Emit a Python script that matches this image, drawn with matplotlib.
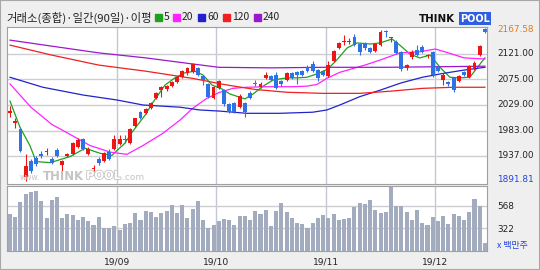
import matplotlib
matplotlib.use('Agg')
import matplotlib.pyplot as plt
import matplotlib.patheffects as pe
from matplotlib.patches import Rectangle

# 거래소(종합) 일봉 2019-08-01 ~ 2019-12-13
opens = [2015, 1996, 1986, 1900, 1928, 1934, 1941, 1944, 1932, 1948, 1921, 1937, 1941, 1954, 1968, 1941,
         1914, 1932, 1928, 1945, 1950, 1959, 1968, 1961, 1992, 2016, 2014, 2023, 2041, 2056, 2057, 2063,
         2070, 2079, 2086, 2088, 2095, 2081, 2066, 2041, 2059, 2056, 2030, 2032, 2026, 2032, 2050, 2069,
         2061, 2077, 2081, 2083, 2072, 2074, 2086, 2088, 2090, 2097, 2103, 2092, 2090, 2081, 2108, 2132,
         2142, 2142, 2152, 2139, 2141, 2132, 2126, 2137, 2162, 2149, 2143, 2125, 2095, 2115, 2128, 2134,
         2117, 2125, 2097, 2074, 2070, 2077, 2072, 2088, 2079, 2095, 2119, 2166]
closes = [2018, 2001, 1946, 1919, 1910, 1923, 1937, 1946, 1925, 1937, 1928, 1941, 1961, 1965, 1950, 1950,
          1916, 1925, 1943, 1932, 1968, 1968, 1965, 1986, 2005, 2006, 2021, 2032, 2050, 2061, 2063, 2070,
          2079, 2090, 2095, 2103, 2083, 2074, 2043, 2061, 2072, 2030, 2017, 2017, 2046, 2017, 2041, 2067,
          2066, 2083, 2074, 2059, 2066, 2086, 2077, 2083, 2084, 2090, 2090, 2077, 2083, 2101, 2126, 2141,
          2144, 2144, 2137, 2125, 2132, 2125, 2139, 2161, 2160, 2151, 2123, 2094, 2101, 2125, 2119, 2125,
          2119, 2083, 2090, 2083, 2066, 2056, 2081, 2083, 2099, 2105, 2136, 2160]
highs = [2027, 2006, 1988, 1941, 1931, 1937, 1946, 1951, 1935, 1951, 1930, 1943, 1963, 1970, 1970, 1954,
         1921, 1935, 1945, 1950, 1974, 1974, 1974, 1988, 2006, 2018, 2023, 2034, 2052, 2063, 2065, 2072,
         2081, 2092, 2097, 2105, 2097, 2083, 2068, 2063, 2074, 2058, 2032, 2034, 2048, 2034, 2054, 2074,
         2070, 2088, 2083, 2088, 2074, 2088, 2088, 2090, 2092, 2101, 2108, 2094, 2092, 2108, 2128, 2143,
         2155, 2150, 2157, 2141, 2143, 2134, 2141, 2164, 2165, 2152, 2146, 2127, 2103, 2128, 2137, 2137,
         2121, 2127, 2101, 2086, 2072, 2079, 2083, 2090, 2101, 2108, 2138, 2167.58]
lows = [2007, 1988, 1944, 1891.81, 1906, 1919, 1934, 1939, 1922, 1935, 1910, 1935, 1939, 1952, 1948, 1939,
        1910, 1921, 1926, 1930, 1948, 1957, 1961, 1959, 1990, 2004, 2012, 2021, 2039, 2043, 2055, 2061,
        2068, 2077, 2084, 2086, 2081, 2065, 2041, 2039, 2057, 2028, 2015, 2014, 2024, 2008, 2039, 2063,
        2059, 2075, 2072, 2057, 2064, 2072, 2075, 2066, 2082, 2088, 2088, 2073, 2081, 2079, 2106, 2130,
        2137, 2139, 2135, 2119, 2128, 2123, 2124, 2135, 2152, 2143, 2121, 2090, 2093, 2112, 2117, 2123,
        2114, 2079, 2088, 2065, 2063, 2052, 2070, 2081, 2077, 2092, 2117, 2159]
volumes = [480, 450, 623, 708, 726, 737, 634, 439, 642, 671, 439, 487, 476, 414, 450, 402,
           366, 450, 322, 322, 347, 303, 377, 384, 498, 414, 516, 505, 450, 498, 516, 590,
           498, 587, 443, 535, 634, 421, 322, 358, 406, 432, 421, 366, 458, 458, 414, 513,
           480, 524, 347, 516, 604, 505, 439, 388, 369, 322, 388, 439, 469, 439, 487, 421,
           432, 439, 560, 609, 598, 642, 524, 498, 510, 789, 579, 579, 505, 421, 531, 388,
           366, 450, 406, 458, 377, 480, 461, 421, 505, 653, 579, 157]

# 이동평균선
ma5_x = [0, 1.9, 3.8, 5, 7.7, 11.5, 14.4, 17.2, 19.5, 22, 23.4, 25.9, 27.4, 29.7, 31.6, 33.5, 35.4, 37,
         38.7, 40.6, 42.1, 45, 46.6, 48.5, 50.4, 53, 55, 56.9, 59.4, 60.9, 62.6, 64.6, 66.5, 69, 70.9,
         73.2, 74.7, 76.6, 78.5, 80.5, 82.4, 84.3, 86.2, 88.1, 89.5, 91]
ma5_y = [2036, 1989, 1956, 1927, 1925, 1936, 1951, 1942, 1938, 1960, 1980, 2011, 2034, 2065, 2078, 2087,
         2090, 2083, 2065, 2058, 2049, 2040, 2049, 2063, 2074, 2078, 2078, 2079, 2087, 2094, 2110, 2132,
         2141, 2139, 2141, 2148, 2137, 2121, 2114, 2119, 2097, 2079, 2078, 2079, 2096, 2114]
ma20_x = [0, 4, 8, 11.5, 15.3, 19.2, 22.4, 25.5, 29.3, 32.6, 35, 37.7, 40.2, 42.7, 45.4, 49.2, 54.2,
          56.9, 58.8, 60.7, 63.2, 68, 70.9, 74.7, 78.5, 81.5, 84, 87, 91]
ma20_y = [2067, 2025, 1994, 1976, 1956, 1944, 1940, 1956, 1978, 2002, 2023, 2041, 2052, 2059, 2061,
          2062, 2062, 2063, 2066, 2077, 2088, 2101, 2110, 2123, 2125, 2130, 2123, 2114, 2112]
ma60_x = [0, 6.3, 14, 20.5, 25.5, 32.6, 36.4, 40.2, 45.4, 51.7, 58, 60.7, 63.2, 67, 71, 75, 79, 83, 87, 91]
ma60_y = [2079, 2061, 2047, 2038, 2029, 2025, 2020, 2018, 2014, 2014, 2016, 2020, 2029, 2044, 2056,
          2069, 2079, 2086, 2092, 2097]
ma120_x = [0, 8, 17, 26, 35, 41, 47, 53, 60, 67, 73, 79, 85, 91]
ma120_y = [2137, 2119, 2101, 2090, 2077, 2066, 2057, 2052, 2050, 2050, 2054, 2059, 2061, 2061]
ma240_x = [0, 17, 26, 35, 40, 50, 60, 72, 91]
ma240_y = [2146, 2123, 2114, 2103, 2097, 2096, 2097, 2097, 2099]

month_labels = ['19/09', '19/10', '19/11', '19/12']
month_start = [21, 40, 61, 82]
price_ticks = [2121, 2075, 2029, 1983, 1937]
vol_ticks = [568, 322]
ma_names = ['5', '20', '60', '120', '240']
ma_colors = ['#1fa01f', '#ff22ff', '#2222cc', '#ee2020', '#9a18cc']

W, H = 540, 270


def fx(x):
    return x / W


def fy(y):
    return 1 - y / H


fig = plt.figure(figsize=(5.4, 2.7), dpi=100, facecolor='#efefef')
fig.patches.append(Rectangle((0, 0), 1, 1, transform=fig.transFigure, fill=False,
                             edgecolor='#a8a8a8', lw=1.5))

ax = fig.add_axes([fx(7), fy(184), fx(480), 157 / H])
axv = fig.add_axes([fx(7), fy(250.5), fx(480), 64.5 / H])
for a in (ax, axv):
    a.set_facecolor('white')
    a.set_xlim(-0.58, 91.4)
    a.set_xticks([])
    a.set_yticks([])
    for s in a.spines.values():
        s.set_color('#a0a0a0')
        s.set_linewidth(0.8)
    for m in month_start:
        a.axvline(m - 0.5, color='#c4c8d4', lw=1.0, zorder=0)

ax.set_ylim(1886.5, 2169.7)
axv.set_ylim(76, 797)
for t in price_ticks:
    ax.axhline(t, color='#cdcdd2', lw=1.0, zorder=0)
for t in vol_ticks:
    axv.axhline(t, color='#cdcdd2', lw=1.0, zorder=0)

# 워터마크
wm = dict(color='#c4c4c4', va='center', ha='left', zorder=1)
fig.text(fx(20), fy(177), 'www.', fontsize=5.5, **wm)
fig.text(fx(43), fy(176), 'THINK', fontsize=8.4, fontweight='bold', **wm)
fig.text(fx(86), fy(176), 'POOL', fontsize=8.2, color='white', va='center', ha='left',
         fontweight='bold', zorder=1,
         path_effects=[pe.withStroke(linewidth=1.2, foreground='#c4c4c4')])
fig.text(fx(122), fy(177), '.com', fontsize=6.5, **wm)

# 이동평균선
for xs, ys, c in zip([ma5_x, ma20_x, ma60_x, ma120_x, ma240_x],
                     [ma5_y, ma20_y, ma60_y, ma120_y, ma240_y], ma_colors):
    ax.plot(xs, ys, color=c, lw=0.9, zorder=2)

# 캔들
for i in range(len(opens)):
    o, c = opens[i], closes[i]
    col = '#ee1515' if c >= o else '#2f72e6'
    ax.vlines(i, lows[i], highs[i], color=col, lw=0.8, zorder=3)
    ax.bar(i, max(abs(c - o), 1.2), bottom=min(o, c), width=0.74, color=col, zorder=4)

axv.bar(range(len(volumes)), volumes, width=0.78, color='#a3abbf', zorder=2)

# 오른쪽 축 라벨
lab = dict(fontsize=6.4, ha='left', va='center', family='DejaVu Sans')
fig.text(fx(497), fy(29.5), '2167.58', color='#e07a20', **lab)
for t in price_ticks:
    y = 54 + (2121 - t) / 1.804
    fig.text(fx(497), fy(y), '%.2f' % t, color='#222222', **lab)
fig.text(fx(497), fy(179), '1891.81', color='#2244dd', **lab)
fig.text(fx(497), fy(206.7), '568', color='#222222', **lab)
fig.text(fx(497), fy(229), '322', color='#222222', **lab)
fig.text(fx(497), fy(245.5), 'x 백만주', color='#2244dd', fontsize=6.4, ha='left', va='center',
         family=['Noto Sans CJK KR', 'DejaVu Sans'])

# 날짜 라벨
for m, lbl in zip(month_start, month_labels):
    xp = 10 + (m - 0.5) * 5.22
    fig.text(fx(xp), fy(262), lbl, fontsize=6.6, ha='center', va='center', color='#222222')

# 제목과 범례
kr = ['Noto Sans CJK KR', 'DejaVu Sans']
fig.text(fx(6), fy(17.5), '거래소(종합)·일간(90일)·이평', fontsize=8.2, family=kr,
         ha='left', va='center', color='#222222')
leg_x = [155, 173, 198, 223, 254]
for x0, name, c in zip(leg_x, ma_names, ma_colors):
    fig.patches.append(Rectangle((fx(x0), fy(21)), fx(7), 7 / H, transform=fig.transFigure,
                                 color=c))
    fig.text(fx(x0 + 9), fy(17.5), name, fontsize=7.4, family=kr, ha='left', va='center',
             color='#222222')

# 로고
fig.text(fx(419), fy(18.5), 'THINK', fontsize=7.4, fontweight='bold', ha='left', va='center',
         color='#111111')
fig.text(fx(460), fy(18.5), 'POOL', fontsize=7.0, fontweight='bold', ha='left', va='center',
         color='white', bbox=dict(boxstyle='square,pad=0.12', fc='#2f5ee0', ec='none'))

fig.savefig('out.png', dpi=100, facecolor=fig.get_facecolor())
